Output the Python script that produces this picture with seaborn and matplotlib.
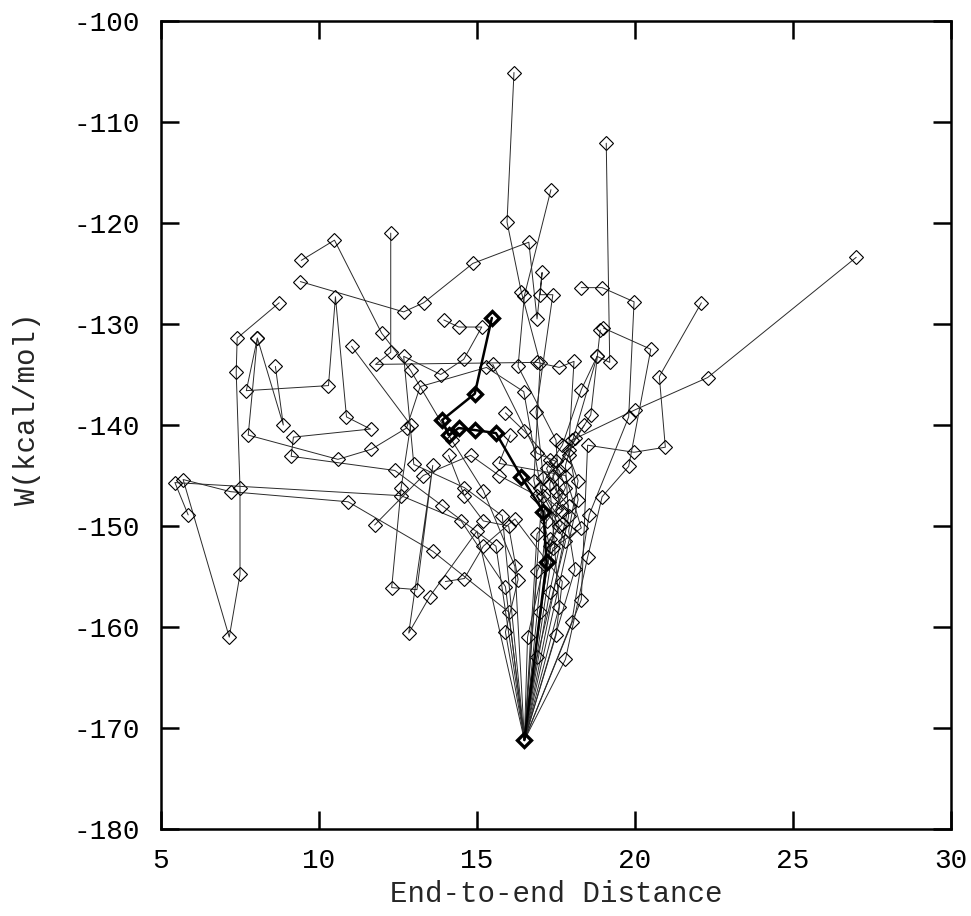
import matplotlib
matplotlib.use("Agg")
import matplotlib.pyplot as plt
import seaborn as sns
import pandas as pd

# ---- data: end-to-end distance (x) and W in kcal/mol (y) for each trajectory ----
t01_x = [16.17, 15.95, 16.4, 17.0, 16.8, 17.3, 16.5]
t01_y = [-105.1, -119.9, -126.8, -133.9, -145.5, -152.0, -171.2]
t02_x = [17.34, 16.5, 16.3, 17.5, 17.6, 17.0, 16.5]
t02_y = [-116.7, -127.2, -134.2, -141.5, -147.0, -158.5, -171.2]
t03_x = [19.09, 19.2, 18.8, 17.8, 17.9, 16.5]
t03_y = [-112.1, -133.8, -133.2, -144.0, -149.0, -171.2]
t04_x = [27.0, 22.3, 20.0, 18.0, 17.3, 17.6, 16.5]
t04_y = [-123.4, -135.3, -138.5, -141.5, -145.8, -158.0, -171.2]
t05_x = [22.1, 20.77, 20.96, 19.97, 18.5, 18.3, 16.5]
t05_y = [-127.9, -135.2, -142.2, -142.7, -142.0, -157.3, -171.2]
t06_x = [18.3, 18.96, 19.97, 19.8, 18.55, 18.0, 16.5]
t06_y = [-126.4, -126.4, -127.8, -139.2, -148.9, -159.5, -171.2]
t07_x = [19.0, 20.5, 19.8, 18.96, 18.5, 17.8, 16.5]
t07_y = [-130.4, -132.5, -144.1, -147.1, -153.1, -163.2, -171.2]
t08_x = [12.27, 12.27, 11.79, 16.9, 17.6, 18.07, 17.9, 18.2, 16.5]
t08_y = [-121.0, -132.8, -134.0, -133.8, -134.3, -133.7, -142.5, -147.4, -171.2]
t09_x = [9.44, 10.49, 11.98, 12.9, 14.2, 15.2, 16.2, 16.5]
t09_y = [-123.7, -121.7, -130.9, -134.6, -141.5, -146.5, -154.0, -171.2]
t10_x = [9.41, 12.68, 13.31, 14.87, 16.64, 16.9, 17.06, 17.0, 17.4, 16.87, 17.1, 16.5]
t10_y = [-125.8, -128.8, -127.9, -124.0, -121.9, -129.5, -124.9, -127.1, -127.1, -138.7, -145.2, -171.2]
t11_x = [8.74, 7.41, 7.38, 7.5, 7.5, 7.16, 5.7, 7.2, 10.92, 13.6, 16.0, 16.5]
t11_y = [-127.9, -131.4, -134.8, -146.2, -154.8, -161.0, -145.4, -146.6, -147.6, -152.5, -158.5, -171.2]
t12_x = [5.86, 5.44, 12.6, 14.5, 15.9, 16.5]
t12_y = [-148.9, -145.7, -147.0, -149.5, -156.0, -171.2]
t13_x = [8.05, 7.7, 10.3, 10.52, 10.87, 11.63, 9.19, 9.12, 12.4, 13.9, 15.6, 16.5]
t13_y = [-131.4, -136.6, -136.1, -127.3, -139.2, -140.4, -141.2, -143.1, -144.5, -148.0, -152.0, -171.2]
t14_x = [8.62, 8.87, 8.05, 7.76, 10.6, 11.66, 12.77, 13.2, 15.3, 16.48, 17.2, 16.5]
t14_y = [-134.2, -140.0, -131.4, -141.0, -143.4, -142.4, -140.3, -136.2, -134.3, -136.7, -149.5, -171.2]
t15_x = [11.03, 12.9, 12.6, 12.3, 13.1, 13.6, 12.84, 13.5, 15.0, 16.5]
t15_y = [-132.2, -140.0, -146.2, -156.1, -156.3, -144.0, -160.6, -157.0, -150.5, -171.2]
t16_x = [13.95, 14.42, 15.15, 14.58, 13.85, 12.68, 13.0, 14.6, 15.8, 16.5]
t16_y = [-129.6, -130.3, -130.3, -133.5, -135.0, -133.2, -143.9, -146.2, -149.0, -171.2]
t17_x = [15.9, 16.5, 17.3, 17.6, 17.8, 17.5, 16.9, 16.5]
t17_y = [-138.8, -140.6, -143.5, -144.5, -146.2, -148.3, -150.8, -171.2]
t18_x = [14.1, 14.6, 15.2, 16.0, 16.3, 15.9, 16.5]
t18_y = [-143.0, -147.0, -149.5, -150.0, -155.3, -160.5, -171.2]
t19_x = [14.0, 14.6, 15.2, 16.2, 17.7, 17.5, 16.5]
t19_y = [-155.5, -155.2, -152.0, -149.3, -155.5, -160.8, -171.2]
t20_x = [11.76, 13.3, 14.8, 15.7, 16.9, 17.8, 16.9, 16.5]
t20_y = [-149.9, -145.0, -143.0, -145.0, -147.0, -151.5, -163.0, -171.2]
t21_x = [18.4, 18.1, 17.9, 18.2, 17.9, 18.1, 16.5]
t21_y = [-140.0, -141.3, -143.0, -145.5, -150.5, -154.3, -171.2]
t22_x = [18.8, 18.3, 17.7, 17.2, 17.5, 17.9, 17.3, 16.5]
t22_y = [-133.2, -136.5, -142.0, -144.3, -146.5, -148.0, -156.5, -171.2]
t23_x = [18.9, 18.6, 17.4, 17.7, 17.1, 17.6, 16.9, 16.5]
t23_y = [-130.6, -139.0, -145.0, -148.5, -147.0, -150.0, -154.5, -171.2]
t24_x = [15.5, 16.9, 17.5, 17.0, 17.7, 17.3, 16.6, 16.5]
t24_y = [-134.0, -142.8, -143.6, -146.2, -149.8, -151.3, -161.0, -171.2]
t25_x = [16.05, 15.7, 17.8, 18.3, 17.4, 16.5]
t25_y = [-141.0, -143.8, -145.0, -150.2, -152.2, -171.2]

# highlighted (bold) trajectory
bold_x = [15.47, 14.93, 13.9, 14.1, 14.42, 14.93, 15.6, 16.4, 17.1, 17.2, 16.5]
bold_y = [-129.4, -136.9, -139.5, -141.0, -140.3, -140.5, -140.8, -145.1, -148.6, -153.6, -171.2]

x_ticks = [5, 10, 15, 20, 25, 30]
y_ticks = [-180, -170, -160, -150, -140, -130, -120, -110, -100]
x_label = "End-to-end Distance"
y_label = "W(kcal/mol)"

trajs = [
    (t01_x, t01_y), (t02_x, t02_y), (t03_x, t03_y), (t04_x, t04_y),
    (t05_x, t05_y), (t06_x, t06_y), (t07_x, t07_y), (t08_x, t08_y),
    (t09_x, t09_y), (t10_x, t10_y), (t11_x, t11_y), (t12_x, t12_y),
    (t13_x, t13_y), (t14_x, t14_y), (t15_x, t15_y), (t16_x, t16_y),
    (t17_x, t17_y), (t18_x, t18_y), (t19_x, t19_y), (t20_x, t20_y),
    (t21_x, t21_y), (t22_x, t22_y), (t23_x, t23_y), (t24_x, t24_y),
    (t25_x, t25_y),
]
rows = []
for i, (xs, ys) in enumerate(trajs):
    for j, (a, b) in enumerate(zip(xs, ys)):
        rows.append({"dist": a, "W": b, "traj": i, "step": j})
df = pd.DataFrame(rows)
df_bold = pd.DataFrame({"dist": bold_x, "W": bold_y, "traj": 0})

# ---- style ----
sns.set_style("ticks")
plt.rcParams["font.family"] = ["Liberation Mono", "DejaVu Sans Mono"]
plt.rcParams["axes.unicode_minus"] = False

fig = plt.figure(figsize=(9.71, 9.16), dpi=100)
ax = fig.add_axes([161 / 971, 1 - 829 / 916, 790 / 971, 808 / 916])

sns.lineplot(data=df, x="dist", y="W", units="traj", estimator=None, sort=False,
             ax=ax, color="#2a2a2a", lw=0.7, marker="D", markersize=7.5,
             markerfacecolor="none", markeredgecolor="black", markeredgewidth=0.8,
             legend=False)
sns.lineplot(data=df_bold, x="dist", y="W", units="traj", estimator=None, sort=False,
             ax=ax, color="black", lw=1.8, marker="D", markersize=7.5,
             markerfacecolor="none", markeredgecolor="black", markeredgewidth=2.4,
             legend=False)

ax.set_xlim(5, 30)
ax.set_ylim(-180, -100)
ax.set_xticks(x_ticks)
ax.set_yticks(y_ticks)
ax.tick_params(direction="in", length=13, width=1.8, top=True, right=True,
               labelsize=20, colors="black")
ax.tick_params(axis="y", pad=15)
ax.tick_params(axis="x", pad=14)
for s in ax.spines.values():
    s.set_linewidth(1.8)
    s.set_color("black")

ax.set_xlabel(x_label, fontsize=21, labelpad=4)
ax.set_ylabel(y_label, fontsize=21)
ax.yaxis.set_label_coords(-0.152, 0.52)

fig.savefig("out.png", dpi=100)
